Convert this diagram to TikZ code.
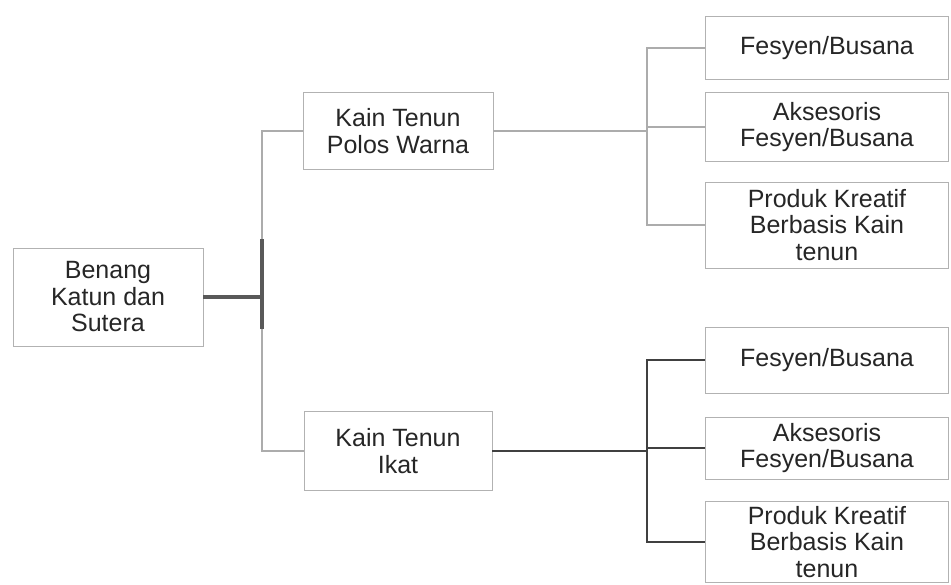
\documentclass[tikz,border=0pt]{standalone}
\usepackage{fontspec}
\setmainfont{Liberation Sans}
\usepackage{xcolor}
\usepackage{tikz}

\begin{document}
\begin{tikzpicture}[x=1pt,y=-1pt,
    every node/.style={draw=gray!60,line width=0.8pt,align=center,inner sep=1pt,
      font=\fontsize{25}{26.5}\selectfont,text=black!85},
    linkup/.style={draw=gray!65,line width=2.2pt},
    linkdown/.style={draw=black!75,line width=2.6pt}]
  \useasboundingbox (0,0) rectangle (951,585);

  % root and second level
  \node[minimum width=190,minimum height=98] (benang) at (108,297) {Benang\\Katun dan\\Sutera};
  \node[minimum width=190,minimum height=77] (polos) at (398,131) {Kain Tenun\\Polos Warna};
  \node[minimum width=188,minimum height=79] (ikat) at (398,451) {Kain Tenun\\Ikat};

  \coordinate (jroot) at (262,297);
  \draw[line width=4pt,draw=gray!70!black] (benang) -- (jroot);
  \draw[linkup] (jroot) |- (polos);
  \draw[linkup] (jroot) |- (ikat);
  \draw[line width=4pt,draw=gray!70!black] ([yshift=-32]jroot) -- ([yshift=58]jroot);

  % products of both fabrics
  \foreach \src/\tag/\y/\h/\txt in {polos/a/48/63/{Fesyen/Busana},
                                    polos/b/127/69/{Aksesoris\\Fesyen/Busana},
                                    polos/c/225/86/{Produk Kreatif\\Berbasis Kain\\tenun},
                                    ikat/a/360/66/{Fesyen/Busana},
                                    ikat/b/448/62/{Aksesoris\\Fesyen/Busana},
                                    ikat/c/542/81/{Produk Kreatif\\Berbasis Kain\\tenun}}{
    \node[minimum width=243,minimum height=\h] (\src\tag) at (827,\y) {\txt};
  }

  \coordinate (jpolos) at (647,131);
  \draw[linkup] (polos) -- (jpolos);
  \foreach \tag in {a,b,c}
    \draw[linkup] (jpolos) |- (polos\tag);

  \coordinate (jikat) at (647,451);
  \draw[linkdown] (ikat) -- (jikat);
  \foreach \tag in {a,b,c}
    \draw[linkdown] (jikat) |- (ikat\tag);
\end{tikzpicture}
\end{document}
